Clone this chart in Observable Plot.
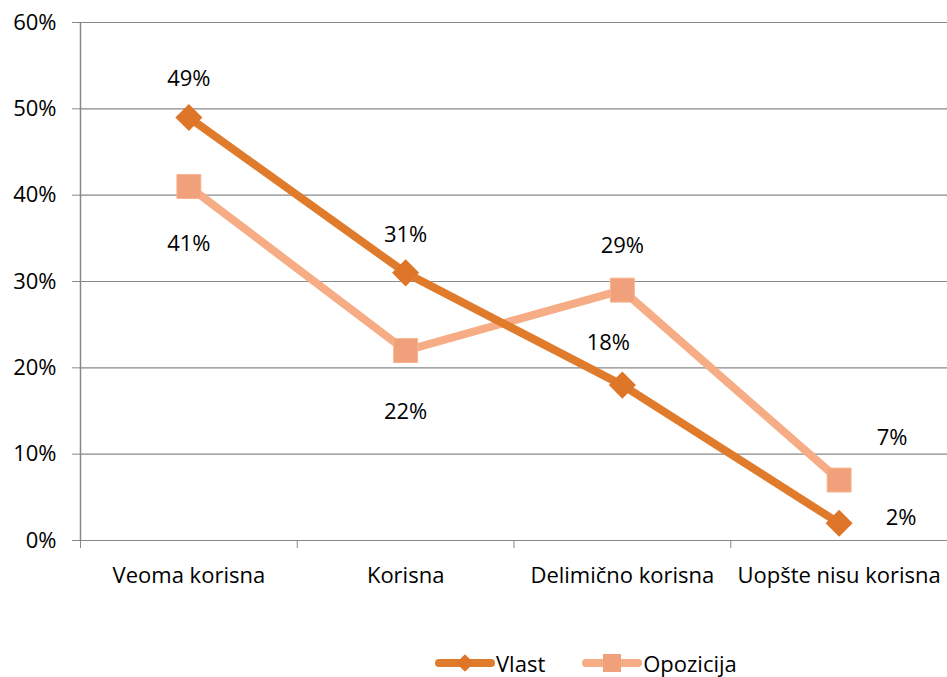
<!DOCTYPE html>
<html>
<head>
<meta charset="utf-8">
<script src="https://cdn.jsdelivr.net/npm/d3@7"></script>
<script src="https://cdn.jsdelivr.net/npm/@observablehq/plot@0.6"></script>
<style>
  body { margin: 0; background: #fff; font-family: "Open Sans", sans-serif; }
  #legend { display: flex; align-items: center; height: 30px; margin-top: 28px; padding-left: 434px; font-size: 22px; color: #000; }
  #legend .item { display: flex; align-items: center; margin-right: 36px; }
  #legend svg { margin-right: 0px; }
</style>
</head>
<body>
<div id="chart"></div>
<div id="legend"></div>
<script>
const categories = ["Veoma korisna", "Korisna", "Delimično korisna", "Uopšte nisu korisna"];
const vlast = [49, 31, 18, 2];
const opozicija = [41, 22, 29, 7];
const seriesNames = ["Vlast", "Opozicija"];
const yTicks = [0, 10, 20, 30, 40, 50, 60];

// style: label offsets (pixels) per point
const vlastLabelOffset = [[0, -39], [0, -38], [-14, -42], [62, -5]];
const opozLabelOffset = [[0, 57], [0, 61], [0, -44], [53, -42]];

const colors = {Vlast: "#E07B2C", Opozicija: "#F6AC84"};
const markerColors = {Vlast: "#DD7628", Opozicija: "#F0A07A"};

const rows = [];
categories.forEach((c, i) => {
  rows.push({series: "Vlast", i, cat: c, value: vlast[i], dx: vlastLabelOffset[i][0], dy: vlastLabelOffset[i][1]});
});
categories.forEach((c, i) => {
  rows.push({series: "Opozicija", i, cat: c, value: opozicija[i], dx: opozLabelOffset[i][0], dy: opozLabelOffset[i][1]});
});
const vRows = rows.filter(d => d.series === "Vlast");
const oRows = rows.filter(d => d.series === "Opozicija");

const FS = 22;
const labelMarks = rows.map(d => Plot.text([d], {
  x: r => r.i + 0.5, y: "value", text: r => r.value + "%",
  dx: d.dx, dy: d.dy, fontSize: FS, fill: "#000"
}));

const plot = Plot.plot({
  width: 947,
  height: 620,
  marginTop: 22,
  marginBottom: 80,
  marginLeft: 80,
  marginRight: 0,
  style: {fontFamily: "'Open Sans', sans-serif", fontSize: FS + "px", color: "#000", background: "#fff", overflow: "visible"},
  x: {domain: [0, categories.length]},
  y: {domain: [0, 60]},
  marks: [
    Plot.ruleY(yTicks, {stroke: "#888", strokeWidth: 1.2}),
    Plot.axisY({ticks: yTicks, tickFormat: d => d + "%", tickSize: 8, tickPadding: 16, stroke: "#888", fill: "#000", fontSize: FS, label: null}),
    Plot.axisX({ticks: d3.range(categories.length + 1), tickFormat: () => "", tickSize: 8, stroke: "#888", label: null}),
    Plot.axisX({ticks: categories.map((c, i) => i + 0.5), tickFormat: (d) => categories[Math.floor(d)], tickSize: 0, tickPadding: 27, fill: "#000", fontSize: FS, label: null}),
    Plot.ruleX([0], {stroke: "#888", strokeWidth: 1.5, y1: 0, y2: 60}),
    Plot.line(oRows, {x: d => d.i + 0.5, y: "value", stroke: colors.Opozicija, strokeWidth: 8, strokeLinejoin: "round", strokeLinecap: "round"}),
    Plot.line(vRows, {x: d => d.i + 0.5, y: "value", stroke: colors.Vlast, strokeWidth: 8, strokeLinejoin: "round", strokeLinecap: "round"}),
    Plot.dot(oRows, {x: d => d.i + 0.5, y: "value", symbol: "square", r: 13.5, fill: markerColors.Opozicija, stroke: "#F8B48E", strokeWidth: 1}),
    Plot.dot(vRows, {x: d => d.i + 0.5, y: "value", symbol: "diamond2", r: 12.2, fill: markerColors.Vlast, stroke: "none"}),
    ...labelMarks
  ]
});
document.getElementById("chart").appendChild(plot);

// legend
const legend = d3.select("#legend");
seriesNames.forEach(name => {
  const item = legend.append("div").attr("class", "item");
  const svg = item.append("svg").attr("width", 62).attr("height", 26);
  svg.append("line").attr("x1", 5).attr("x2", 57).attr("y1", 13).attr("y2", 13)
    .attr("stroke", colors[name]).attr("stroke-width", 8).attr("stroke-linecap", "round");
  if (name === "Vlast") {
    svg.append("path").attr("d", d3.symbol(d3.symbolDiamond2, 200)()).attr("transform", "translate(31,13)").attr("fill", markerColors[name]);
  } else {
    svg.append("rect").attr("x", 22).attr("y", 4).attr("width", 18).attr("height", 18).attr("fill", markerColors[name]);
  }
  item.append("span").text(name);
});
</script>
</body>
</html>
